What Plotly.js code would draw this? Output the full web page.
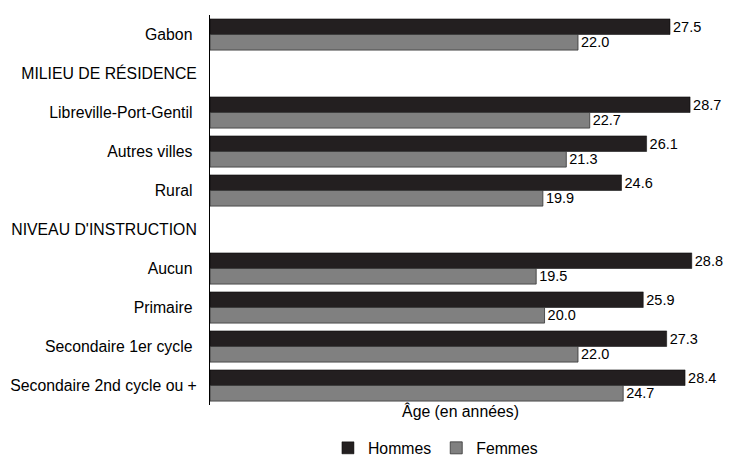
<!DOCTYPE html>
<html><head><meta charset="utf-8">
<script src="https://cdn.plot.ly/plotly-3.0.1.min.js"></script>
<style>body{margin:0;background:#fff}#c{width:731px;height:466px}</style>
</head><body><div id="c"></div>
<script>
const categories = ["Gabon ", "MILIEU DE RÉSIDENCE", "Libreville-Port-Gentil ", "Autres villes ", "Rural ", "NIVEAU D'INSTRUCTION", "Aucun ", "Primaire ", "Secondaire 1er cycle ", "Secondaire 2nd cycle ou +"];
const hommes = [27.5, null, 28.7, 26.1, 24.6, null, 28.8, 25.9, 27.3, 28.4];
const femmes = [22.0, null, 22.7, 21.3, 19.9, null, 19.5, 20.0, 22.0, 24.7];
const fmt = a => a.map(v => v == null ? "" : v.toFixed(1));
const FAM = "Liberation Sans, Arial, sans-serif";
const font = {family: FAM, size: 15.8, color: "#000"};
const traces = [
  {type: "bar", orientation: "h", name: "Hommes", y: categories, x: hommes,
   text: fmt(hommes), textposition: "outside", cliponaxis: false,
   textfont: font, marker: {color: "#231f20", line: {color: "#000", width: 0.5}}},
  {type: "bar", orientation: "h", name: "Femmes", y: categories, x: femmes,
   text: fmt(femmes), textposition: "outside", cliponaxis: false,
   textfont: font, marker: {color: "#808080", line: {color: "#333", width: 0.8}}}
];
const layout = {
  width: 731, height: 466,
  margin: {l: 210, r: 20, t: 15, b: 61, autoexpand: false},
  paper_bgcolor: "#fff", plot_bgcolor: "#fff",
  font: font,
  barmode: "group", bargap: 0.2, bargroupgap: 0,
  showlegend: true,
  legend: {orientation: "h", x: 0.45, xanchor: "center", y: -0.154, yanchor: "bottom",
           font: font, itemwidth: 30, tracegroupgap: 0},
  xaxis: {range: [0, 29.95], showgrid: false, zeroline: false, showticklabels: false, ticks: "",
          showline: false, fixedrange: true,
          title: {text: "Âge (en années)", standoff: 0, font: font}},
  yaxis: {type: "category", categoryorder: "array", categoryarray: categories, autorange: "reversed",
          showgrid: false, zeroline: false, showline: true, linecolor: "#000", linewidth: 1,
          ticks: "outside", ticklen: 9, tickcolor: "rgba(0,0,0,0)", automargin: false,
          tickfont: font}
};
Plotly.newPlot("c", traces, layout, {displayModeBar: false, staticPlot: true});
</script></body></html>
